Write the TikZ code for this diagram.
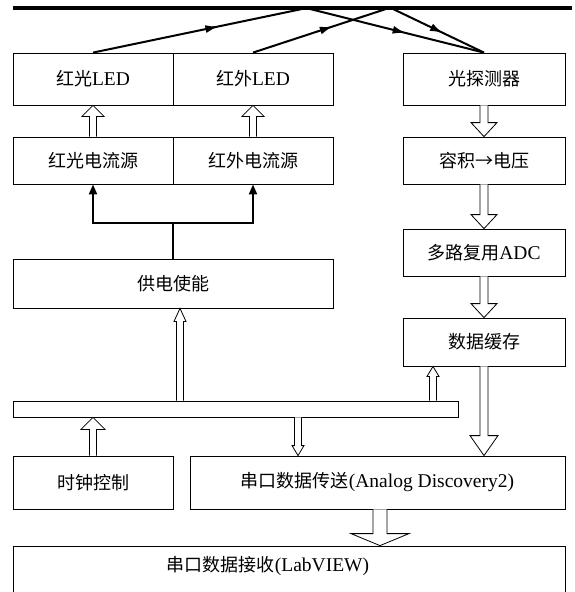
\documentclass[tikz,border=0pt]{standalone}
\usepackage{fontspec}
\setmainfont{Liberation Serif}
\newfontfamily\cjk{Noto Sans CJK SC}
\usetikzlibrary{arrows.meta,decorations.markings,calc}
% hollow block arrow: #1 start, #2 end (only its y is used), #3 shaft half width, #4 head half width, #5 head length
\newcommand{\hollowarrow}[5]{%
  \draw[hollow] let \p1=#1, \p2=#2, \n1={sign(\y2-\y1)} in
    (\x1-#3,\y1) -- (\x1-#3,\y2-\n1*#5) -- (\x1-#4,\y2-\n1*#5) -- (\x1,\y2)
    -- (\x1+#4,\y2-\n1*#5) -- (\x1+#3,\y2-\n1*#5) -- (\x1+#3,\y1);}
\newcommand{\zh}[1]{{\cjk\fontsize{18}{21}\selectfont #1}}
\begin{document}
\begin{tikzpicture}[x=1pt,y=-1pt,
  box/.style={draw,line width=0.8pt,inner sep=0pt,font=\fontsize{19.5}{22}\selectfont},
  lbl/.style={inner sep=0pt,font=\fontsize{19.5}{22}\selectfont},
  hollow/.style={draw,fill=white,line width=0.8pt,line join=miter},
  ray/.style={line width=2pt},
  midarrow/.style={postaction={decorate},decoration={markings,
     mark=at position #1 with {\arrow{Latex[length=13pt,width=8pt]}}}},
  feed/.style={line width=2pt,-{Triangle[length=10pt,width=8pt]}}]
\useasboundingbox (0,0) rectangle (574,592);

% top line
\draw[line width=4pt] (13,8) coordinate (topL) -- (572,8) coordinate (topR);
\coordinate (r1) at (302,9);
\coordinate (r2) at (386,9);
\coordinate (r3) at (310,9);
\coordinate (r4) at (393,9);

% boxes
\node[box,minimum width=160pt,minimum height=52pt] (redled) at (93,79) {\zh{红光}LED};
\node[box,minimum width=160pt,minimum height=52pt] (irled) at (253,79) {\zh{红外}LED};
\node[box,minimum width=162pt,minimum height=52pt] (pd) at (484,79) {\zh{光探测器}};

\node[box,minimum width=160pt,minimum height=47pt] (redcs) at (93,160.5) {\zh{红光电流源}};
\node[box,minimum width=160pt,minimum height=47pt] (ircs) at (253,160.5) {\zh{红外电流源}};
\node[box,minimum width=162pt,minimum height=47pt] (cv) at (484,160.5) {\zh{容积→电压}};

\node[box,minimum width=320pt,minimum height=49pt] (enable) at (173,283.5) {\zh{供电使能}};
\node[box,minimum width=162pt,minimum height=47pt] (adc) at (484,252.5) {\zh{多路复用}ADC};
\node[box,minimum width=162pt,minimum height=48pt] (buf) at (484,342) {\zh{数据缓存}};

\node[box,minimum width=445pt,minimum height=16pt] (bus) at (235.5,409) {};

\node[box,minimum width=160pt,minimum height=53pt] (clock) at (93,482.5) {\zh{时钟控制}};
\node[box,minimum width=375pt,minimum height=53pt] (tx) at (377.5,482.5) {\zh{串口数据传送}(Analog Discovery2)};

\node[box,minimum width=552pt,minimum height=56pt] (rx) at (289,574) {};
\node[lbl] (rxtext) at (268,566) {\zh{串口数据接收}(LabVIEW)};

% light rays
\draw[ray,midarrow=0.6] (redled.north) -- (r1);
\draw[ray,midarrow=0.6] (irled.north) -- (r2);
\draw[ray,midarrow=0.55] (r3) -- (pd.north);
\draw[ray,midarrow=0.55] (r4) -- (pd.north);

% enable -> current sources
\draw[line width=2pt] (enable.north) -- ++(0,-36) coordinate (split);
\draw[feed] (split) -| (redcs.south);
\draw[feed] (split) -| (ircs.south);

% hollow arrows
\coordinate (xen) at (180,0);
\coordinate (xbuf) at (433,0);
\coordinate (xtx) at (298,0);
\coordinate (xrx) at (380,0);

\hollowarrow{(redcs.north)}{(redled.south)}{3.5pt}{11pt}{11pt}
\hollowarrow{(ircs.north)}{(irled.south)}{3.5pt}{11pt}{11pt}
\hollowarrow{(pd.south)}{(cv.north)}{4pt}{13pt}{14pt}
\hollowarrow{(cv.south)}{(adc.north)}{4pt}{13pt}{14pt}
\hollowarrow{(adc.south)}{(buf.north)}{4pt}{13pt}{14pt}
\hollowarrow{(buf.south)}{(tx.north)}{4pt}{14pt}{20pt}
\hollowarrow{(bus.north -| xen)}{(enable.south)}{3.5pt}{6pt}{13pt}
\hollowarrow{(bus.north -| xbuf)}{(buf.south)}{3.5pt}{6pt}{10pt}
\hollowarrow{(clock.north)}{(bus.south)}{3.5pt}{12pt}{12pt}
\hollowarrow{(bus.south -| xtx)}{(tx.north)}{3.5pt}{6pt}{10pt}
\hollowarrow{(tx.south -| xrx)}{(rx.north)}{7pt}{29pt}{12pt}
\end{tikzpicture}
\end{document}
